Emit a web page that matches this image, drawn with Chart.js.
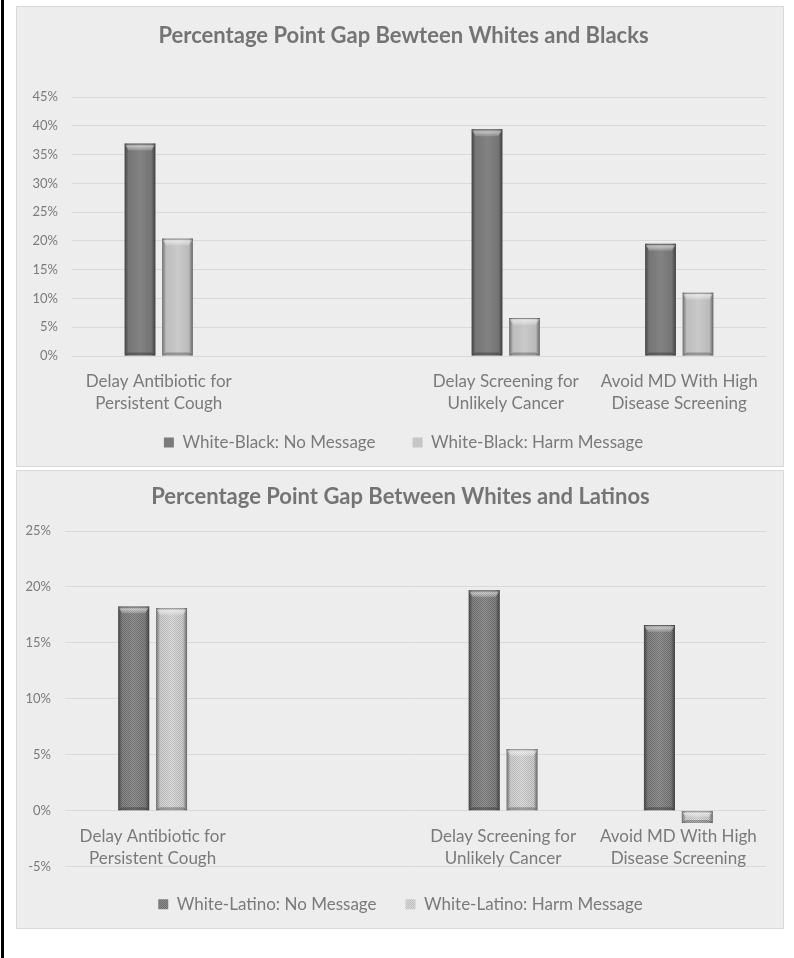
<!DOCTYPE html>
<html><head><meta charset="utf-8">
<script src="https://cdn.jsdelivr.net/npm/chart.js@4.4.1/dist/chart.umd.min.js"></script>
<style>
html,body{margin:0;padding:0;background:#fff;width:794px;height:958px;overflow:hidden;}
#edge{position:absolute;left:1px;top:0;width:3px;height:958px;background:#000;}
.panel{position:absolute;left:16px;width:766px;background:#ededed;border:1px solid #d9d9d9;}
#p1{top:6px;height:459px;}
#p2{top:470px;height:457px;}
canvas{display:block;}
</style></head><body>
<div id="edge"></div>
<div class="panel" id="p1"><canvas id="c1" width="766" height="459"></canvas></div>
<div class="panel" id="p2"><canvas id="c2" width="766" height="457"></canvas></div>
<script>
// ---- data ----
const categories = [
  ["Delay Antibiotic for", "Persistent Cough"],
  "",
  ["Delay Screening for", "Unlikely Cancer"],
  ["Avoid MD With High", "Disease Screening"]
];
const blackTitle = "Percentage Point Gap Bewteen Whites and Blacks";
const latinoTitle = "Percentage Point Gap Between Whites and Latinos";
const blackSeriesNames = ["White-Black: No Message", "White-Black: Harm Message"];
const latinoSeriesNames = ["White-Latino: No Message", "White-Latino: Harm Message"];
const blackNoMessage = [36.9, null, 39.4, 19.5];
const blackHarmMessage = [20.4, null, 6.6, 11.0];
const latinoNoMessage = [18.25, null, 19.7, 16.6];
const latinoHarmMessage = [18.1, null, 5.5, -1.1];
const blackTicks = {min: 0, max: 45, step: 5};
const latinoTicks = {min: -5, max: 25, step: 5};

Chart.defaults.font.family = "Lato, 'Open Sans', sans-serif";
Chart.defaults.color = '#7a7a7a';

function makePattern(c1, c2) {
  const cv = document.createElement('canvas');
  cv.width = 2; cv.height = 2;
  const x = cv.getContext('2d');
  x.fillStyle = c1; x.fillRect(0, 0, 2, 2);
  x.fillStyle = c2; x.fillRect(0, 0, 1, 1); x.fillRect(1, 1, 1, 1);
  return x.createPattern(cv, 'repeat');
}

const bevelPlugin = {
  id: 'bevel',
  afterDatasetsDraw(chart) {
    const ctx = chart.ctx;
    chart.data.datasets.forEach((ds, i) => {
      const meta = chart.getDatasetMeta(i);
      if (meta.hidden) return;
      meta.data.forEach((el, j) => {
        if (ds.data[j] == null) return;
        const p = el.getProps(['x', 'y', 'base', 'width'], true);
        const l = p.x - p.width / 2, r = p.x + p.width / 2;
        const t = Math.min(p.y, p.base), b = Math.max(p.y, p.base);
        const h = b - t;
        if (h < 1) return;
        const e = Math.min(4, h / 2);
        const bt = Math.min(7, h / 2);
        ctx.save();
        let g = ctx.createLinearGradient(l, 0, r, 0);
        g.addColorStop(0, 'rgba(0,0,0,0.45)');
        g.addColorStop(0.13, 'rgba(0,0,0,0.04)');
        g.addColorStop(0.5, 'rgba(255,255,255,0.06)');
        g.addColorStop(0.87, 'rgba(0,0,0,0.06)');
        g.addColorStop(1, 'rgba(0,0,0,0.5)');
        ctx.fillStyle = g;
        ctx.fillRect(l, t, r - l, h);
        ctx.beginPath();
        ctx.moveTo(l, t); ctx.lineTo(r, t); ctx.lineTo(r - e, t + bt); ctx.lineTo(l + e, t + bt); ctx.closePath();
        g = ctx.createLinearGradient(0, t, 0, t + bt);
        g.addColorStop(0, 'rgba(255,255,255,0.15)');
        g.addColorStop(0.4, 'rgba(255,255,255,0.5)');
        g.addColorStop(1, 'rgba(255,255,255,0.12)');
        ctx.fillStyle = g; ctx.fill();
        ctx.fillStyle = 'rgba(0,0,0,0.35)';
        ctx.fillRect(l, t, r - l, 1);
        ctx.beginPath();
        ctx.moveTo(l, b); ctx.lineTo(r, b); ctx.lineTo(r - e, b - 3); ctx.lineTo(l + e, b - 3); ctx.closePath();
        ctx.fillStyle = 'rgba(0,0,0,0.25)'; ctx.fill();
        ctx.restore();
      });
    });
  }
};

function makeChart(id, cfg) {
  return new Chart(document.getElementById(id), {
    type: 'bar',
    data: {
      labels: categories,
      datasets: [
        {label: cfg.labels[0], data: cfg.data[0], backgroundColor: cfg.colors[0], borderWidth: 0},
        {label: cfg.labels[1], data: cfg.data[1], backgroundColor: cfg.colors[1], borderWidth: 0}
      ]
    },
    options: {
      responsive: false,
      animation: false,
      devicePixelRatio: 1,
      categoryPercentage: 0.432,
      barPercentage: 0.82,
      layout: {padding: {top: 0, left: cfg.padLeft, right: 17, bottom: cfg.padBottom}},
      plugins: {
        title: {
          display: true, text: cfg.title, color: '#747474',
          font: {size: 22, weight: 'bold', lineHeight: 1.2},
          padding: cfg.titlePad
        },
        legend: {
          position: 'bottom',
          title: cfg.legendShift > 0
            ? {display: true, text: '', font: {size: 10, lineHeight: 1}, padding: {top: cfg.legendShift - 10, bottom: 0}}
            : {display: false},
          labels: {boxWidth: 10, boxHeight: 10, padding: cfg.legendPad, color: '#7a7a7a', font: {size: 17}}
        },
        tooltip: {enabled: false}
      },
      scales: {
        x: {
          position: {y: 0},
          grid: {display: false, drawTicks: false},
          border: {display: false},
          ticks: {padding: 14.5, color: '#7a7a7a', font: {size: 17, lineHeight: '22px'}, maxRotation: 0, autoSkip: false}
        },
        y: {
          min: cfg.ticks.min, max: cfg.ticks.max,
          grid: {color: '#d9d9d9', lineWidth: 1, drawTicks: false},
          border: {display: false},
          ticks: {stepSize: cfg.ticks.step, padding: 14, color: '#7a7a7a', font: {size: 13},
                  callback: v => v + '%'},
          afterFit: s => {
            s.width = cfg.yWidth - cfg.padLeft;
            s._computeLabelArea = () => undefined; // let tick labels extend into the left padding
          }
        }
      }
    },
    plugins: [bevelPlugin]
  });
}

makeChart('c1', {
  title: blackTitle,
  labels: blackSeriesNames,
  data: [blackNoMessage, blackHarmMessage],
  colors: ['#7b7b7b', '#c6c6c6'],
  ticks: blackTicks,
  titlePad: {top: 15.8, bottom: 47.8},
  legendPad: 37,
  legendShift: 41,
  padBottom: 5,
  padLeft: 24,
  yWidth: 55
});

makeChart('c2', {
  title: latinoTitle,
  labels: latinoSeriesNames,
  data: [latinoNoMessage, latinoHarmMessage],
  colors: [makePattern('#8c8c8c', '#6e6e6e'), makePattern('#dadada', '#bdbdbd')],
  ticks: latinoTicks,
  titlePad: {top: 12.8, bottom: 20.8},
  legendPad: 29,
  legendShift: 0,
  padBottom: 5.3,
  padLeft: 18,
  yWidth: 48
});
</script>
</body></html>
